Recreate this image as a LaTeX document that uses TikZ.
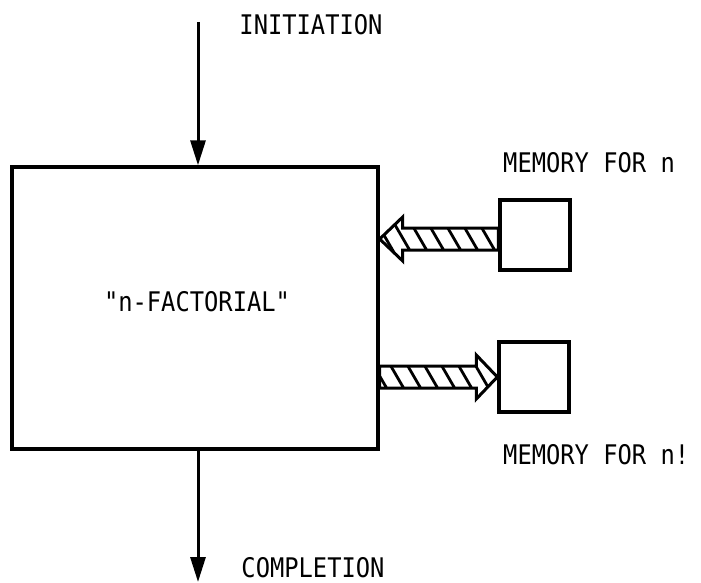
\documentclass[tikz,border=0pt]{standalone}
\usepackage{fontspec}
\setmonofont[FakeStretch=0.88]{DejaVu Sans Mono}
\usetikzlibrary{calc,arrows.meta}
\begin{document}
\begin{tikzpicture}[x=1pt,y=-1pt,
  font=\ttfamily\fontsize{27}{31}\selectfont,
  box/.style={draw, line width=3.4pt, inner sep=0pt},
  flow/.style={line width=3pt, -{Triangle[length=25pt,width=15pt]}},
  outline/.style={draw, line width=3pt, line join=miter},
  hatch/.style={line width=2.8pt}]
\useasboundingbox (0,0) rectangle (701,583);
% boxes
\node[box, minimum width=366pt, minimum height=282pt] (main) at (195,308) {};
\node (fact) at (197,302) {"n-FACTORIAL"};
\node[box, minimum size=70pt] (mn) at (535,235) {};
\node[box, minimum size=70pt] (mnf) at (534,377) {};
% labels
\node (init) at (311,25) {INITIATION};
\node (comp) at (313,568) {COMPLETION};
\node[anchor=west, inner sep=0pt] (lmn) at (503,163) {MEMORY FOR n};
\node[anchor=west, inner sep=0pt] (lmnf) at (503,455) {MEMORY FOR n!};
% flow arrows
\coordinate (top) at (198,22);
\coordinate (bot) at (198,582);
\draw[flow] (top) -- (top |- main.north);
\draw[flow] (main.south -| bot) -- (bot);
% hatched arrow into main (from memory for n)
\coordinate (s1) at ($(mn.west)+(0,4)$);
\coordinate (t1) at (main.east |- s1);
\begin{scope}
  \clip (t1) -- ($(t1)+(23,-22)$) -- ($(t1)+(23,-11)$) -- ($(s1)+(0,-11)$)
    -- ($(s1)+(0,11)$) -- ($(t1)+(23,11)$) -- ($(t1)+(23,22)$) -- cycle;
  \foreach \i in {0,...,8}
    \draw[hatch] ($(t1)+(\i*17-8,-25)$) -- ++(29,50);
\end{scope}
\path[outline] (t1) -- ($(t1)+(23,-22)$) -- ($(t1)+(23,-11)$) -- ($(s1)+(0,-11)$)
    -- ($(s1)+(0,11)$) -- ($(t1)+(23,11)$) -- ($(t1)+(23,22)$) -- cycle;
% hatched arrow out of main (to memory for n!)
\coordinate (t2) at (mnf.west);
\coordinate (s2) at (main.east |- t2);
\begin{scope}
  \clip ($(s2)+(0,-11)$) -- ($(t2)+(-21,-11)$) -- ($(t2)+(-21,-22)$) -- (t2)
    -- ($(t2)+(-21,22)$) -- ($(t2)+(-21,11)$) -- ($(s2)+(0,11)$) -- cycle;
  \foreach \i in {0,...,8}
    \draw[hatch] ($(s2)+(\i*17-14,-25)$) -- ++(29,50);
\end{scope}
\path[outline] ($(s2)+(0,-11)$) -- ($(t2)+(-21,-11)$) -- ($(t2)+(-21,-22)$) -- (t2)
    -- ($(t2)+(-21,22)$) -- ($(t2)+(-21,11)$) -- ($(s2)+(0,11)$) -- cycle;
\end{tikzpicture}
\end{document}
